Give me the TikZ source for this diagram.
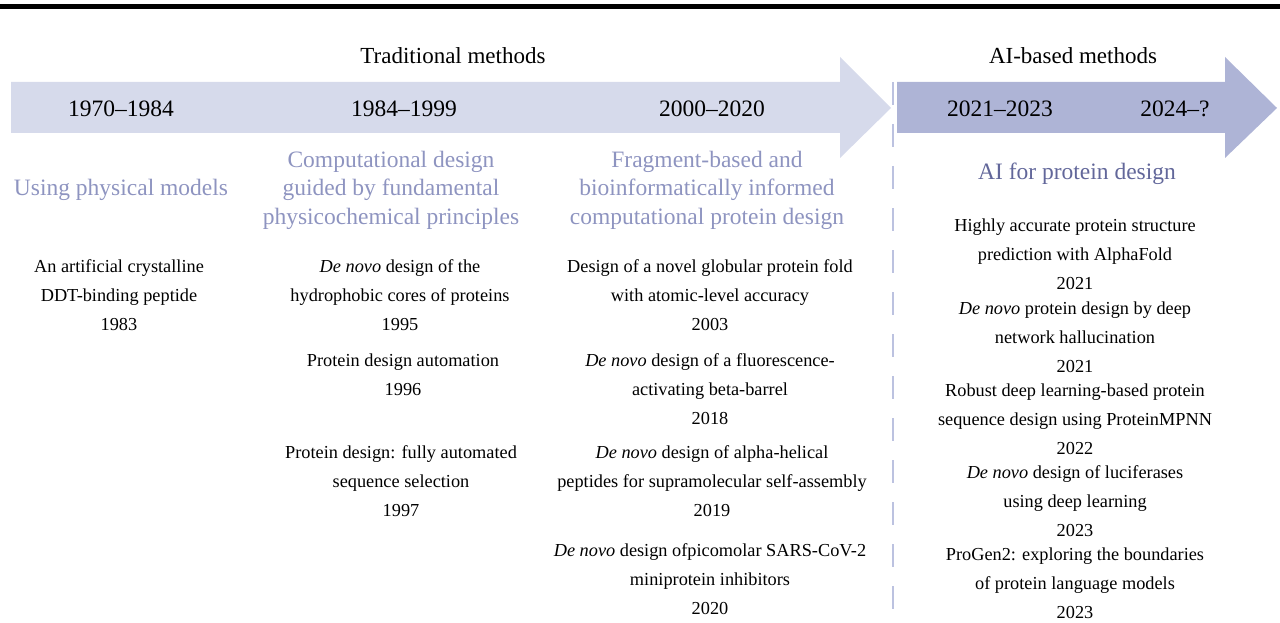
\documentclass[tikz,border=0pt]{standalone}
\usepackage{fontspec}
\setmainfont{Liberation Serif}
\definecolor{arrowlight}{HTML}{D6DAEB}
\definecolor{arrowdark}{HTML}{AEB4D6}
\definecolor{headtxt}{HTML}{8E94C0}
\definecolor{aitxt}{HTML}{62679A}
\definecolor{dashcol}{HTML}{BCC2E0}
\begin{document}
\begin{tikzpicture}[x=1pt,y=-1pt,
  body/.style={inner sep=0pt,align=center,font=\fontsize{18.3}{29}\selectfont,text=black},
  heading/.style={inner sep=0pt,align=center,font=\fontsize{23.5}{28.5}\selectfont,text=headtxt},
  period/.style={inner sep=0pt,font=\fontsize{23.5}{28}\selectfont,text=black},
  group/.style={inner sep=0pt,font=\fontsize{23}{28}\selectfont,text=black}]
\useasboundingbox (0,0) rectangle (1280,623);
% top rule
\fill[black] (0,4) rectangle (1280,9);
% separator
\draw[dashcol,line width=1.4pt,dash pattern=on 23pt off 19pt] (893,82) -- (893,612);
% arrows
\fill[arrowlight] (11,82) -- (840,82) -- (840,57) -- (891,108) -- (840,158) -- (840,133) -- (11,133) -- cycle;
\fill[arrowdark] (897,82) -- (1225,82) -- (1225,57) -- (1277,108) -- (1225,158) -- (1225,133) -- (897,133) -- cycle;
% group titles
\node[group] (trad) at (453,56) {Traditional methods};
\node[group] (aibased) at (1073,56) {AI-based methods};
% periods
\node[period] (p1) at (121,109) {1970--1984};
\node[period] (p2) at (404,109) {1984--1999};
\node[period] (p3) at (712,109) {2000--2020};
\node[period] (p4) at (1000,109) {2021--2023};
\node[period] (p5) at (1175,109) {2024--?};
% headings
\node[heading] (h1) at (121,190) {Using physical models};
\node[heading] (h2) at (391,190) {Computational design\\guided by fundamental\\physicochemical principles};
\node[heading] (h3) at (707,190) {Fragment-based and\\bioinformatically informed\\computational protein design};
\node[heading,text=aitxt] (h4) at (1077,174) {AI for protein design};
% column 1
\node[body] (c1a) at (119,295) {An artificial crystalline\\DDT-binding peptide\\1983};
% column 2
\node[body] (c2a) at (400,295) {\emph{De novo} design of the\\hydrophobic cores of proteins\\1995};
\node[body] (c2b) at (403,375) {Protein design automation\\1996};
\node[body] (c2c) at (401,481) {Protein design: fully automated\\sequence selection\\1997};
% column 3
\node[body] (c3a) at (710,295) {Design of a novel globular protein fold\\with atomic-level accuracy\\2003};
\node[body] (c3b) at (710,389) {\emph{De novo} design of a fluorescence-\\activating beta-barrel\\2018};
\node[body] (c3c) at (712,481) {\emph{De novo} design of alpha-helical\\peptides for supramolecular self-assembly\\2019};
\node[body] (c3d) at (710,579) {\emph{De novo} design ofpicomolar SARS-CoV-2\\miniprotein inhibitors\\2020};
% column 4
\node[body] (c4a) at (1075,254) {Highly accurate protein structure\\prediction with AlphaFold\\2021};
\node[body] (c4b) at (1075,337) {\emph{De novo} protein design by deep\\network hallucination\\2021};
\node[body] (c4c) at (1075,419) {Robust deep learning-based protein\\sequence design using ProteinMPNN\\2022};
\node[body] (c4d) at (1075,501) {\emph{De novo} design of luciferases\\using deep learning\\2023};
\node[body] (c4e) at (1075,583) {ProGen2: exploring the boundaries\\of protein language models\\2023};
\end{tikzpicture}
\end{document}
